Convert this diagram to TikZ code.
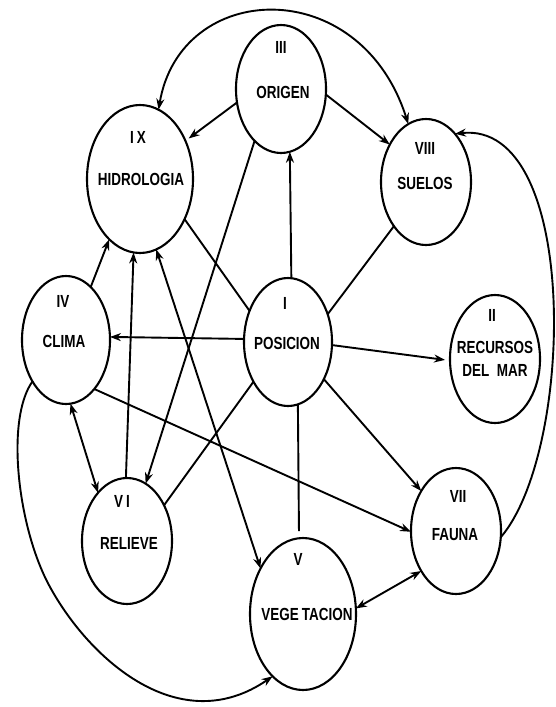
\documentclass[tikz,border=0pt]{standalone}
\usepackage{fontspec}
\setmainfont[FakeStretch=0.77]{Liberation Sans}
\usetikzlibrary{shapes.geometric,arrows.meta}
\tikzset{
  ell/.style={draw, ellipse, line width=2.1pt, inner sep=0pt, outer sep=0pt},
  lab/.style={font=\fontsize{17.5}{23}\selectfont\bfseries, inner sep=0pt, align=center},
  con/.style={line width=1.9pt},
  arr/.style={con, -{Stealth[length=11pt,width=8pt]}},
  darr/.style={con, {Stealth[length=11pt,width=8pt]}-{Stealth[length=11pt,width=8pt]}},
}
\begin{document}
\begin{tikzpicture}[x=1pt,y=-1pt]
\useasboundingbox[fill=white] (0,0) rectangle (556,707);
% ellipses
\node[ell, minimum width=90pt,  minimum height=128pt] (ori) at (281,89)  {};
\node[ell, minimum width=106pt, minimum height=148pt] (hid) at (140,179) {};
\node[ell, minimum width=90pt,  minimum height=126pt] (sue) at (426,182) {};
\node[ell, minimum width=88pt,  minimum height=128pt] (cli) at (66,340)  {};
\node[ell, minimum width=88pt,  minimum height=128pt] (pos) at (288,342) {};
\node[ell, minimum width=90pt,  minimum height=128pt] (rec) at (495,359) {};
\node[ell, minimum width=90pt,  minimum height=126pt] (rel) at (127,541) {};
\node[ell, minimum width=106pt, minimum height=152pt] (veg) at (303,614) {};
\node[ell, minimum width=90pt,  minimum height=126pt] (fau) at (456,531) {};
% labels
\node[lab] (oriN) at (281,47)  {III};
\node[lab] (oriT) at (283,92)  {ORIGEN};
\node[lab] (hidN) at (138,137) {I\,X};
\node[lab] (hidT) at (141,179) {HIDROLOGIA};
\node[lab] (sueN) at (425,148) {VIII};
\node[lab] (sueT) at (425,183) {SUELOS};
\node[lab] (cliN) at (63,301)  {IV};
\node[lab] (cliT) at (64,341)  {CLIMA};
\node[lab] (posN) at (285,303) {I};
\node[lab] (posT) at (287,343) {POSICION};
\node[lab] (recN) at (492,315) {II};
\node[lab] (recT) at (495,359) {RECURSOS\\DEL\ \ MAR};
\node[lab] (relN) at (122,501) {V\,I};
\node[lab] (relT) at (129,543) {RELIEVE};
\node[lab] (vegN) at (298,559) {V};
\node[lab] (vegT) at (307,614) {VEGE\,TACION};
\node[lab] (fauN) at (458,496) {VII};
\node[lab] (fauT) at (455,535) {FAUNA};
% connectors
\draw[darr] (hid.75) .. controls (180,-20) and (360,-28) .. (sue.107);
\draw[arr, shorten >=4pt] (ori.197) -- (hid.40);
\draw[arr] (ori.353) -- (sue.134);
\draw[arr] (ori.243) -- (rel.72);
\draw[arr] (pos.87) -- (ori.278);
\draw[con] (hid.318) -- (pos.141);
\draw[con] (pos.35) -- (sue.234);
\draw[arr] (pos.176) -- (cli.4);
\draw[arr, shorten >=5pt] (pos.356) -- (rec.182);
\draw[arr] (pos.314) -- (fau.131);
\draw[con, shorten >=7pt] (pos.279) -- (veg.93);
\draw[con] (pos.229) -- (rel.44);
\draw[arr] (cli.65) -- (hid.243);
\draw[arr] (rel.91) -- (hid.265);
\draw[darr] (hid.283) -- (veg.133);
\draw[darr] (cli.274) -- (rel.121);
\draw[arr] (cli.300) -- (fau.181);
\draw[darr] (veg.6) -- (fau.229);
\draw[arr] (fau.352) .. controls (575,450) and (580,120) .. (sue.59);
\draw[arr] (cli.231) .. controls (5,420) and (18,529) .. (50,587)
           .. controls (90,660) and (180,740) .. (veg.244);
\end{tikzpicture}
\end{document}
